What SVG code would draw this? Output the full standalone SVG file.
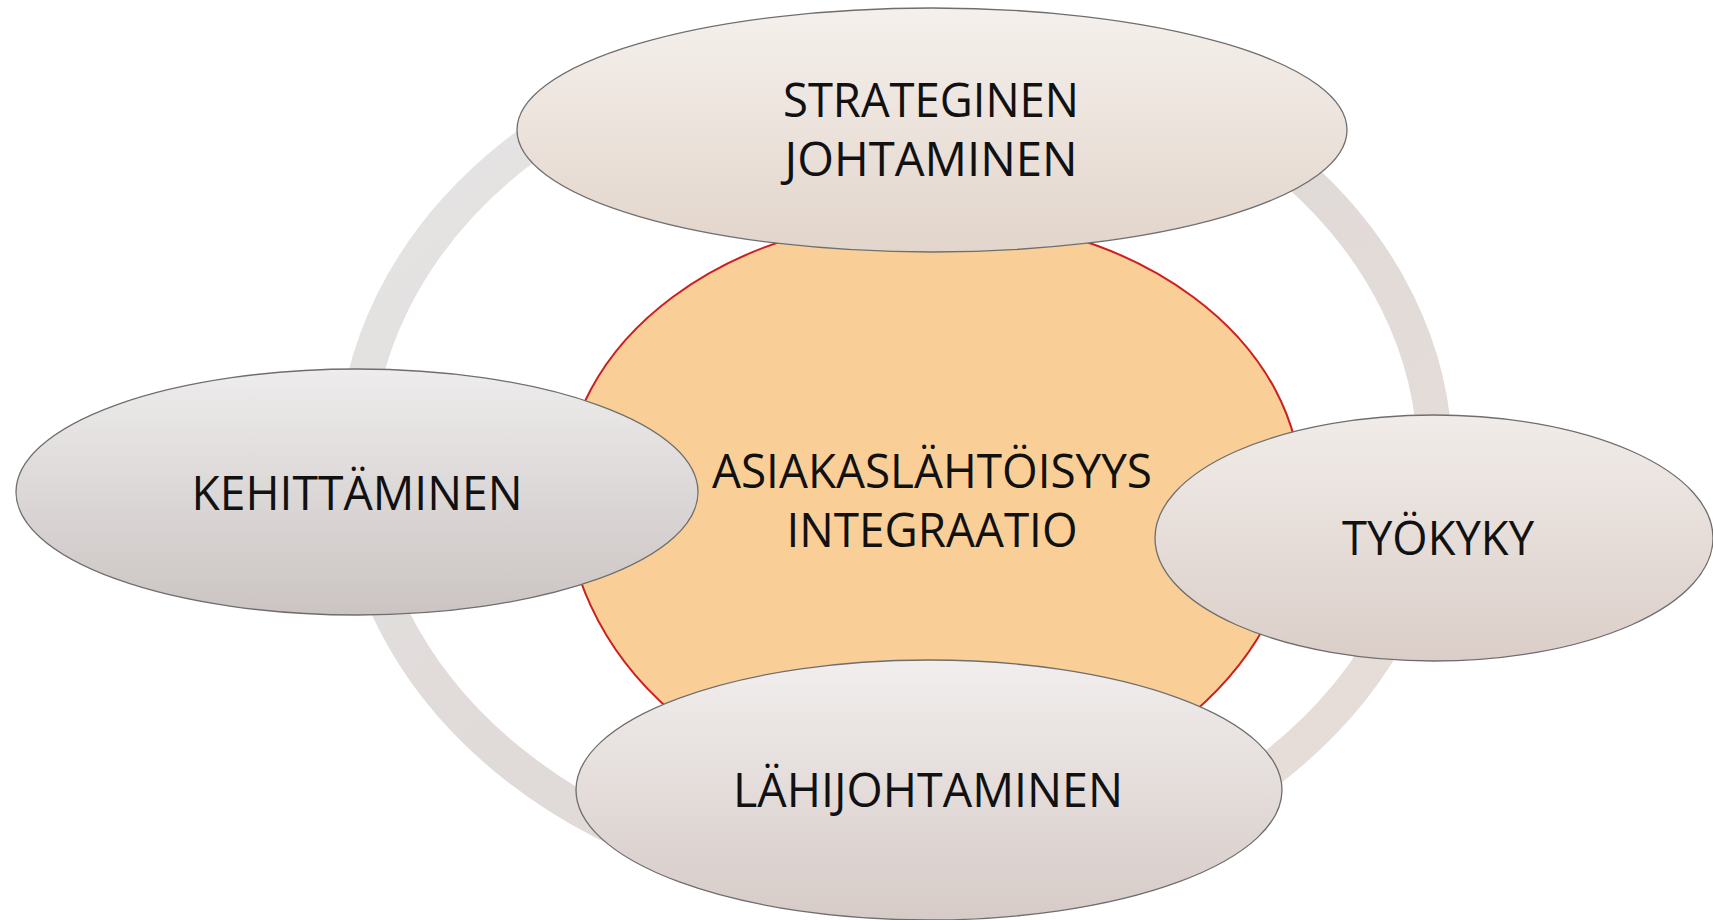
<svg xmlns="http://www.w3.org/2000/svg" width="1713" height="920" viewBox="0 0 1713 920">
<style>
.node{stroke:#6e6e6e;stroke-width:1.3}
.lbl{font-family:"Open Sans","Liberation Sans",sans-serif;font-size:48px;fill:#111;text-anchor:middle}
</style>
<defs>
<linearGradient id="ring" x1="0" y1="0" x2="1" y2="1">
<stop offset="0" stop-color="#e6e6e6"/>
<stop offset="0.5" stop-color="#e0dad8"/>
<stop offset="1" stop-color="#e8ded7"/>
</linearGradient>
<linearGradient id="gTop" x1="0" y1="0" x2="0" y2="1">
<stop offset="0" stop-color="#f5f0ec"/>
<stop offset="1" stop-color="#e2d5cb"/>
</linearGradient>
<linearGradient id="gLeft" x1="0" y1="0" x2="0" y2="1">
<stop offset="0" stop-color="#eeecec"/>
<stop offset="1" stop-color="#cbc4c3"/>
</linearGradient>
<linearGradient id="gRight" x1="0" y1="0" x2="0" y2="1">
<stop offset="0" stop-color="#f1ece9"/>
<stop offset="1" stop-color="#dbcec8"/>
</linearGradient>
<linearGradient id="gBot" x1="0" y1="0" x2="0" y2="1">
<stop offset="0" stop-color="#f1eeed"/>
<stop offset="1" stop-color="#d6cbc7"/>
</linearGradient>
</defs>
<rect width="1713" height="920" fill="#ffffff"/>
<g id="connectors">
<ellipse cx="895" cy="460" rx="540" ry="430" fill="none" stroke="url(#ring)" stroke-width="35"/>
</g>
<g id="center">
<path d="M565,490 A368,273 0 0 1 1301,490 A368,315 0 0 1 565,490 Z" fill="#f9cf97" stroke="#cc1f1f" stroke-width="2"/>
<text class="lbl" x="932" y="488" textLength="440" lengthAdjust="spacingAndGlyphs">ASIAKASLÄHTÖISYYS</text>
<text class="lbl" x="932" y="547" textLength="291" lengthAdjust="spacingAndGlyphs">INTEGRAATIO</text>
</g>
<g id="strateginen">
<ellipse class="node" cx="932" cy="130" rx="415" ry="122" fill="url(#gTop)"/>
<text class="lbl" x="931" y="117" textLength="296" lengthAdjust="spacingAndGlyphs">STRATEGINEN</text>
<text class="lbl" x="931" y="176" textLength="293" lengthAdjust="spacingAndGlyphs">JOHTAMINEN</text>
</g>
<g id="kehittaminen">
<ellipse class="node" cx="357" cy="492" rx="341" ry="123" fill="url(#gLeft)"/>
<text class="lbl" x="357" y="510" textLength="331" lengthAdjust="spacingAndGlyphs">KEHITTÄMINEN</text>
</g>
<g id="tyokyky">
<ellipse class="node" cx="1434" cy="538" rx="279" ry="123" fill="url(#gRight)"/>
<text class="lbl" x="1438" y="555" textLength="192" lengthAdjust="spacingAndGlyphs">TYÖKYKY</text>
</g>
<g id="lahijohtaminen">
<ellipse class="node" cx="929" cy="790" rx="353" ry="130" fill="url(#gBot)"/>
<text class="lbl" x="928" y="807" textLength="390" lengthAdjust="spacingAndGlyphs">LÄHIJOHTAMINEN</text>
</g>
</svg>
